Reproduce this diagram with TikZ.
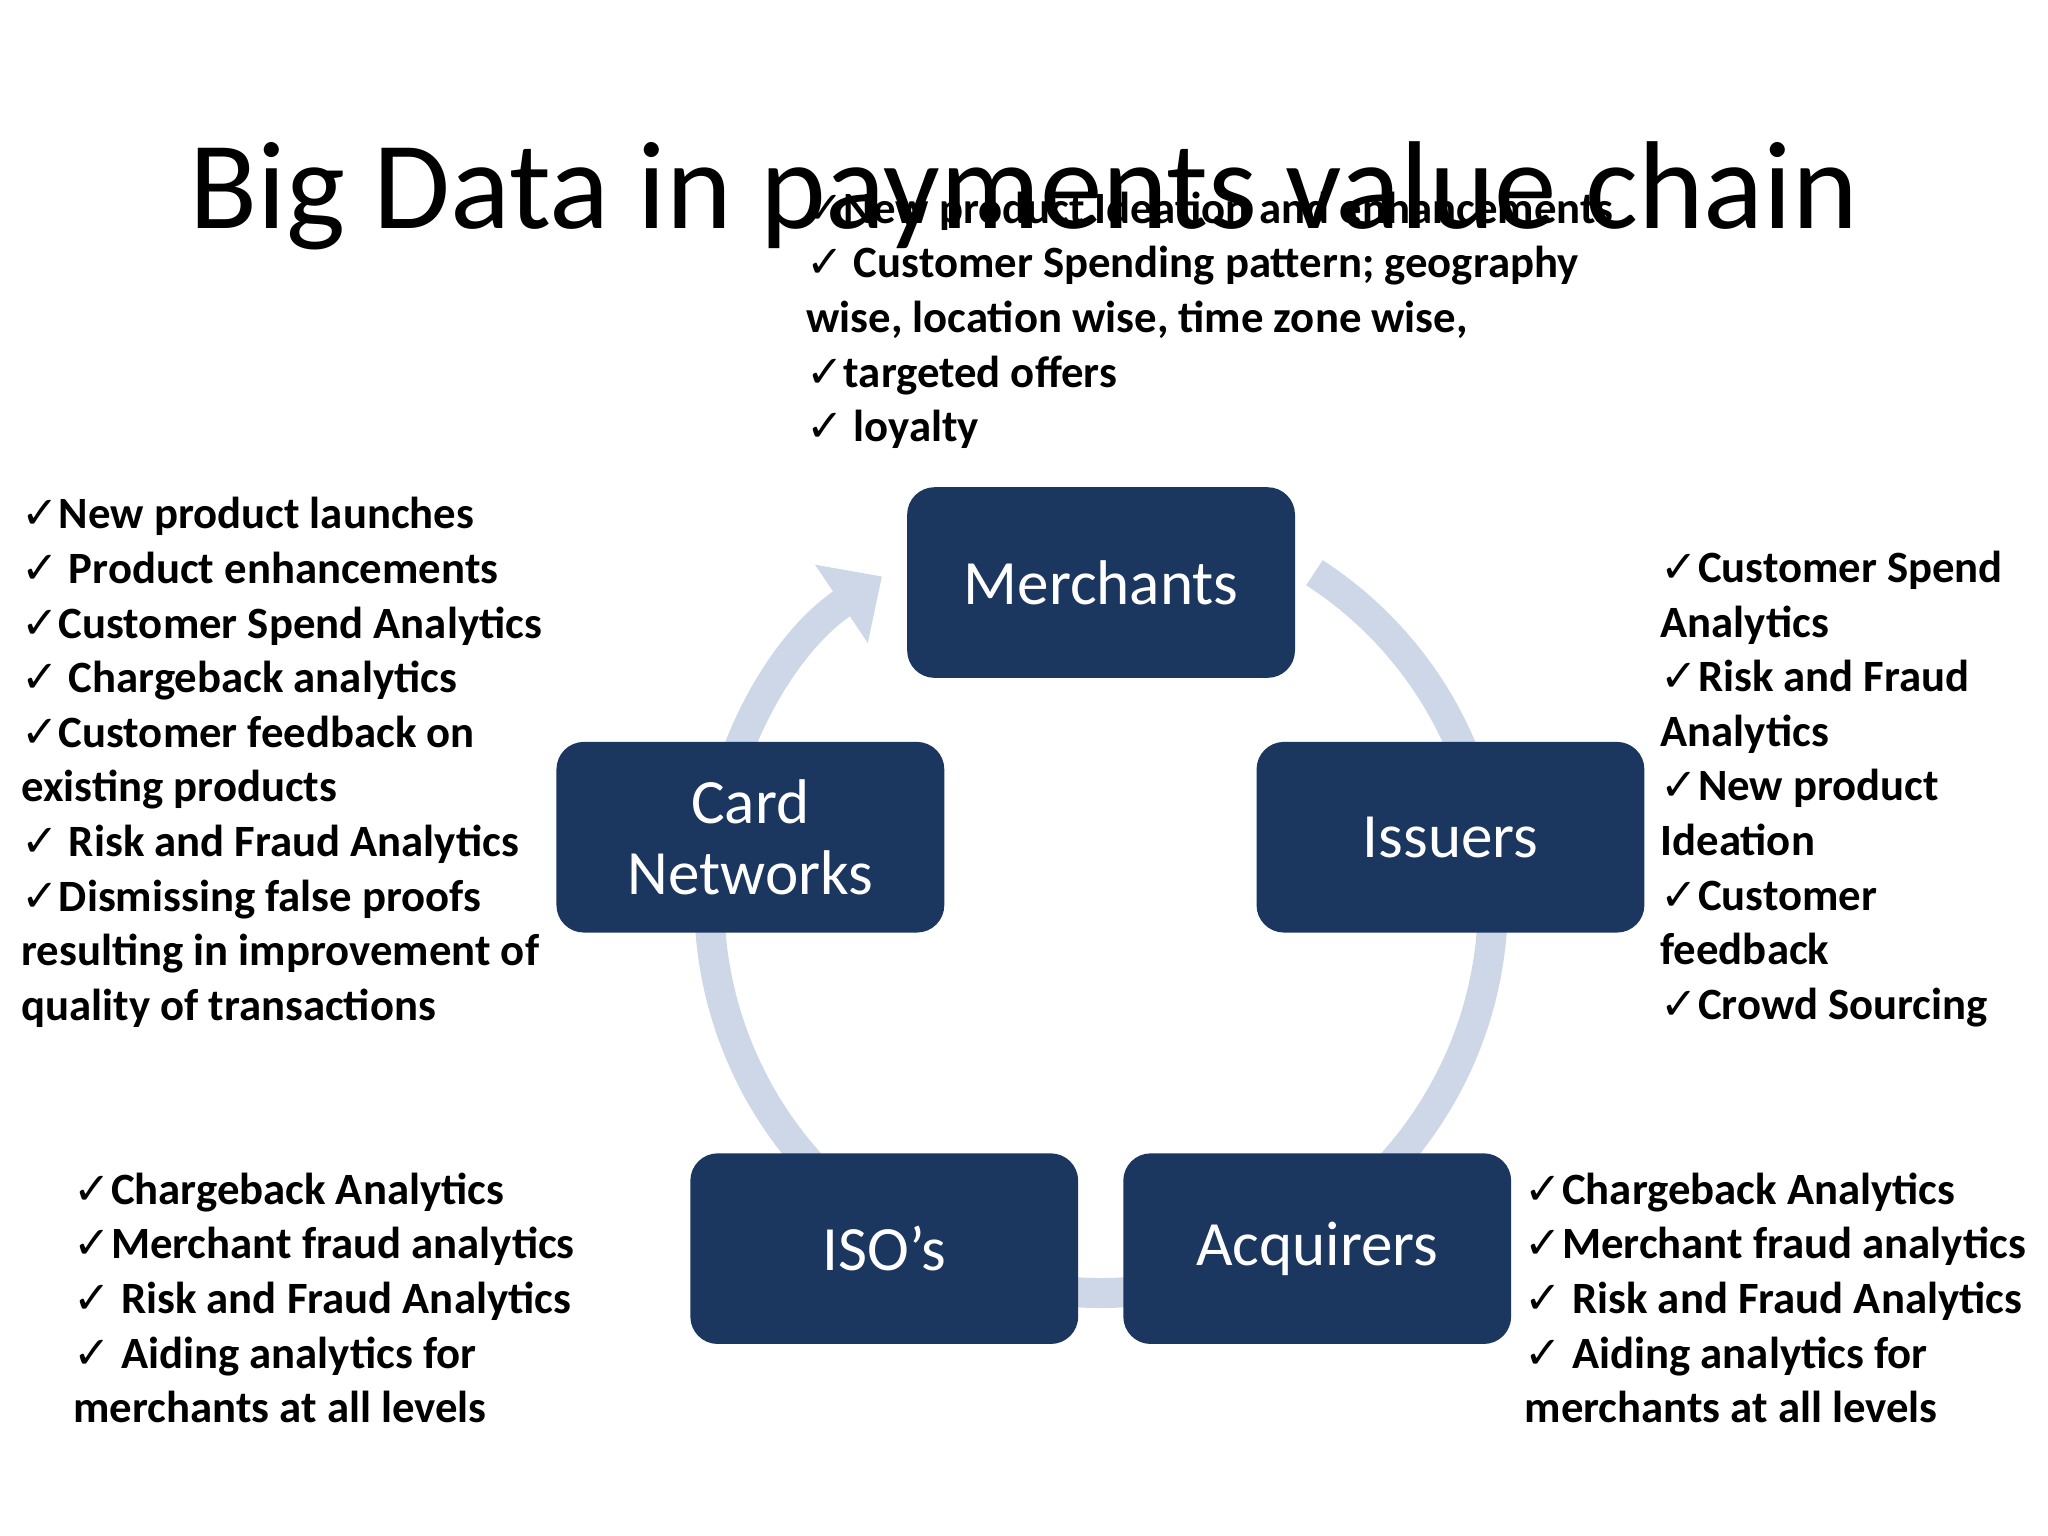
\documentclass[tikz,border=0pt]{standalone}
\usepackage{fontspec}
\setmainfont{Carlito}
\newfontfamily\dvs{DejaVu Sans}
\usetikzlibrary{arrows.meta}
\definecolor{navy}{HTML}{1B365F}
\definecolor{band}{HTML}{CED7E7}
\newcommand{\ck}{{\dvs\symbol{"2713}}}
\tikzset{
  box/.style={draw=none,fill=navy,rounded corners=0.42cm,minimum width=5.94cm,minimum height=2.92cm,text=white,font=\fontsize{27.5}{33}\selectfont,align=center},
  tx/.style={anchor=base west,inner sep=0pt,font=\fontsize{19.5}{24}\selectfont\bfseries},
}
\begin{document}
\begin{tikzpicture}[x=0.02cm,y=-0.02cm]
\useasboundingbox (0,0) rectangle (1568,1176);
\coordinate (c) at (843,690);
\draw[band,line width=0.46cm,-{Triangle[width=1.4cm,length=0.75cm]}] (c) ++(57:6cm) arc (57:-236:6cm);
\node[box] (m) at (843,446) {Merchants};
\node[box] (cn) at (574.5,641) {Card\\[-2pt]Networks};
\node[box] (is) at (1110.5,641) {Issuers};
\node[box] (iso) at (677,956) {ISO’s};
\node[box] (aq) at (1008.5,956) {Acquirers};
\node[inner sep=0pt,font=\fontsize{54.5}{60}\selectfont] (title) at (784,150) {Big Data in payments value chain};
\foreach \t [count=\i] in {\ck New product Ideation and enhancements,\ck\ Customer Spending pattern; geography,{wise, location wise, time zone wise,},\ck targeted offers,\ck\ loyalty}
  \node[tx] at (617,{160+11+(\i-1)*41.8}) {\t};
\foreach \t [count=\i] in {\ck New product launches,\ck\ Product enhancements,\ck Customer Spend Analytics,\ck\ Chargeback analytics,\ck Customer feedback on,existing products,\ck\ Risk and Fraud Analytics,\ck Dismissing false proofs,resulting in improvement of,quality of transactions}
  \node[tx] at (16,{394+11+(\i-1)*41.8}) {\t};
\foreach \t [count=\i] in {\ck Customer Spend,Analytics,\ck Risk and Fraud,Analytics,\ck New product,Ideation,\ck Customer,feedback,\ck Crowd Sourcing}
  \node[tx] at (1271,{435+11+(\i-1)*41.8}) {\t};
\foreach \t [count=\i] in {\ck Chargeback Analytics,\ck Merchant fraud analytics,\ck\ Risk and Fraud Analytics,\ck\ Aiding analytics for,merchants at all levels}
  \node[tx] at (56,{911+11+(\i-1)*41.8}) {\t};
\foreach \t [count=\i] in {\ck Chargeback Analytics,\ck Merchant fraud analytics,\ck\ Risk and Fraud Analytics,\ck\ Aiding analytics for,merchants at all levels}
  \node[tx] at (1167,{911+11+(\i-1)*41.8}) {\t};
\end{tikzpicture}
\end{document}
